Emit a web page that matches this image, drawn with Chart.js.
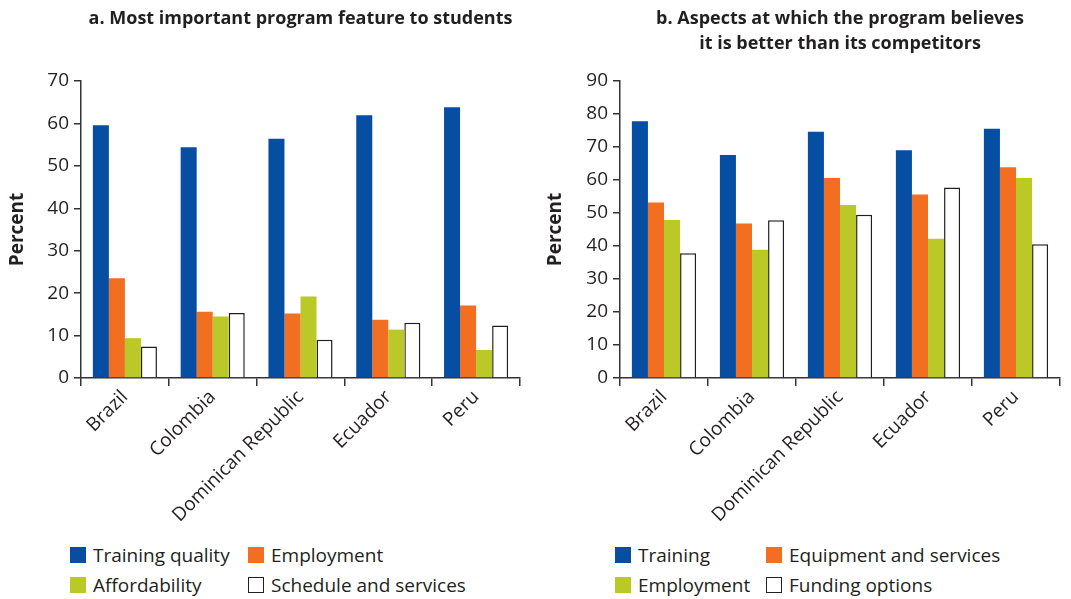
<!DOCTYPE html>
<html>
<head>
<meta charset="utf-8">
<script src="https://cdn.jsdelivr.net/npm/chart.js@4.4.1/dist/chart.umd.min.js"></script>
<style>
  body { margin: 0; background: #fff; width: 1071px; height: 599px; overflow: hidden; position: relative; font-family: "Open Sans", sans-serif; color: #231f20; }
  .panel { position: absolute; top: 0; width: 535px; height: 540px; }
  .title { position: absolute; top: 5px; text-align: center; font-family: "Open Sans", sans-serif; font-weight: bold; font-size: 18px; line-height: 25px; color: #231f20; white-space: nowrap; }
  .legend { position: absolute; top: 542px; display: grid; row-gap: 4px; font-size: 19px; line-height: 26px; color: #231f20; }
  .legend div { display: flex; align-items: center; white-space: nowrap; }
  .legend span.box { display: inline-block; width: 16px; height: 16px; margin-right: 7px; box-sizing: border-box; }
</style>
</head>
<body>
<div class="panel" id="panelA" style="left:0">
  <div class="title" style="left:81px; width:439px">a. Most important program feature to students</div>
  <canvas id="chartA" width="535" height="540"></canvas>
</div>
<div class="panel" id="panelB" style="left:538px">
  <div class="title" style="left:82px; width:440px">b. Aspects at which the program believes<br>it is better than its competitors</div>
  <canvas id="chartB" width="535" height="540"></canvas>
</div>
<div class="legend" id="legendA" style="left:70px; grid-template-columns: 178px auto;"></div>
<div class="legend" id="legendB" style="left:615px; grid-template-columns: 151px auto;"></div>

<script>
var countries = ['Brazil', 'Colombia', 'Dominican Republic', 'Ecuador', 'Peru'];

// panel a: most important program feature to students
var seriesA = ['Training quality', 'Employment', 'Affordability', 'Schedule and services'];
var trainingQuality = [59.6, 54.4, 56.4, 61.9, 63.8];
var employmentA = [23.5, 15.6, 15.2, 13.7, 17.1];
var affordability = [9.4, 14.5, 19.2, 11.4, 6.6];
var scheduleServices = [7.4, 15.3, 9.0, 13.0, 12.4];

// panel b: aspects where the program believes it is better
var seriesB = ['Training', 'Equipment and services', 'Employment', 'Funding options'];
var training = [77.8, 67.6, 74.6, 69.0, 75.5];
var equipmentServices = [53.2, 46.8, 60.6, 55.6, 63.9];
var employmentB = [47.9, 38.9, 52.4, 42.2, 60.6];
var fundingOptions = [37.8, 47.8, 49.5, 57.7, 40.5];

var fills = ['#054ea2', '#f26f21', '#bac928', '#ffffff'];
var borders = ['#054ea2', '#f26f21', '#bac928', '#231f20'];

function makeDatasets(names, arrays) {
    return names.map(function (name, i) {
        return {
            label: name,
            data: arrays[i],
            backgroundColor: fills[i],
            borderColor: borders[i],
            borderWidth: i === 3 ? 1.5 : 0,
            categoryPercentage: 0.73,
            barPercentage: 1.0
        };
    });
}

function BuildChart(id, names, arrays, yMax, yWidth, padRight) {
    var ctx = document.getElementById(id).getContext('2d');
    return new Chart(ctx, {
        type: 'bar',
        data: { labels: countries, datasets: makeDatasets(names, arrays) },
        options: {
            responsive: false,
            animation: false,
            layout: { padding: { top: 81, right: padRight, bottom: 2, left: 0 } },
            plugins: { legend: { display: false }, tooltip: { enabled: false } },
            scales: {
                x: {
                    grid: { drawOnChartArea: false, drawTicks: true, tickLength: 8, color: '#333', lineWidth: 1.5, offset: true },
                    border: { display: true, color: '#333', width: 1.5 },
                    ticks: { color: '#231f20', font: { family: 'Open Sans', size: 19 }, maxRotation: 45, minRotation: 45, padding: 0 },
                    afterFit: function (scale) { scale.height = 160; }
                },
                y: {
                    min: 0,
                    max: yMax,
                    grid: { drawOnChartArea: false, drawTicks: true, tickLength: 7, color: '#333', lineWidth: 1.5 },
                    border: { display: true, color: '#333', width: 1.5 },
                    ticks: { stepSize: 10, color: '#231f20', font: { family: 'Open Sans', size: 19 }, padding: 5 },
                    title: { display: true, text: 'Percent', color: '#231f20', font: { family: 'Open Sans', size: 19, weight: 'bold' }, padding: { top: 6, bottom: 0 } },
                    afterFit: function (scale) { scale.width = yWidth; }
                }
            }
        }
    });
}

function BuildLegend(id, names) {
    var el = document.getElementById(id);
    names.forEach(function (name, i) {
        var item = document.createElement('div');
        var box = document.createElement('span');
        box.className = 'box';
        box.style.background = fills[i];
        if (i === 3) box.style.border = '1.5px solid #231f20';
        item.appendChild(box);
        item.appendChild(document.createTextNode(name));
        el.appendChild(item);
    });
}

BuildChart('chartA', seriesA, [trainingQuality, employmentA, affordability, scheduleServices], 70, 81, 15);
BuildChart('chartB', seriesB, [training, equipmentServices, employmentB, fundingOptions], 90, 82, 13);
BuildLegend('legendA', seriesA);
BuildLegend('legendB', seriesB);
</script>
</body>
</html>
